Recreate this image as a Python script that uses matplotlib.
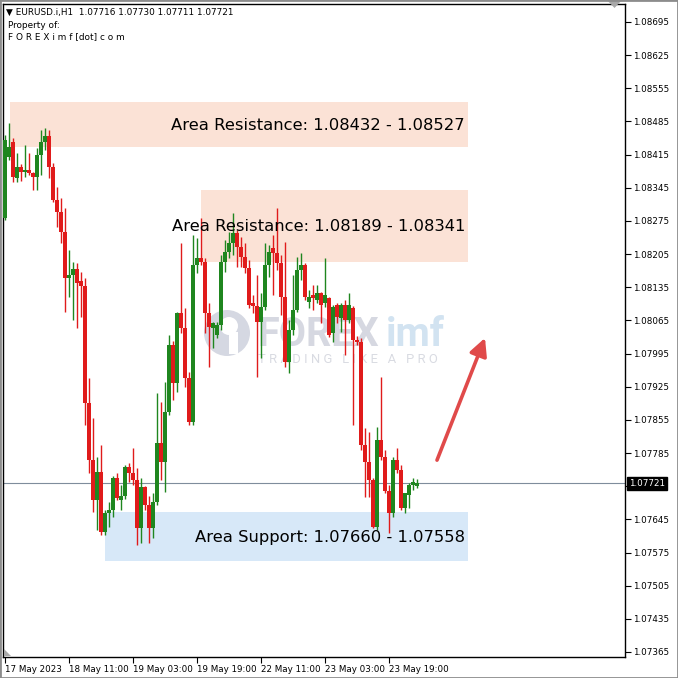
import matplotlib
matplotlib.use("Agg")
import matplotlib.pyplot as plt
from matplotlib.patches import Rectangle, Circle, FancyArrowPatch, Polygon

# ---------------- data ----------------
symbol = "EURUSD.i,H1"

open_ = [1.08281, 1.08410, 1.08442, 1.08366, 1.08389, 1.08378, 1.08383, 1.08376, 1.08368, 1.08414,
         1.08442, 1.08454, 1.08389, 1.08319, 1.08294, 1.08252, 1.08155, 1.08161, 1.08174, 1.08148,
         1.08138, 1.07891, 1.07770, 1.07686, 1.07745, 1.07618, 1.07658, 1.07665, 1.07732, 1.07686,
         1.07694, 1.07756, 1.07743, 1.07728, 1.07627, 1.07713, 1.07675, 1.07627, 1.07682, 1.07806,
         1.07766, 1.07872, 1.08013, 1.07933, 1.08081, 1.08049, 1.07943, 1.07851, 1.08182, 1.08197,
         1.08188, 1.08081, 1.08049, 1.08034, 1.08055, 1.08188, 1.08210, 1.08228, 1.08250, 1.08220,
         1.08199, 1.08176, 1.08102, 1.08096, 1.08062, 1.08093, 1.08182, 1.08218, 1.08207, 1.08186,
         1.08114, 1.07977, 1.08045, 1.08087, 1.08172, 1.08182, 1.08104, 1.08119, 1.08108, 1.08123,
         1.08102, 1.08112, 1.08038, 1.08098, 1.08070, 1.08098, 1.08066, 1.08091, 1.08024, 1.08019,
         1.07802, 1.07766, 1.07728, 1.07629, 1.07813, 1.07777, 1.07705, 1.07658, 1.07770, 1.07749,
         1.07669, 1.07697, 1.07718, 1.07716]

high = [1.08456, 1.08482, 1.08450, 1.08419, 1.08395, 1.08435, 1.08419, 1.08378, 1.08429, 1.08467,
        1.08471, 1.08467, 1.08397, 1.08347, 1.08324, 1.08302, 1.08214, 1.08188, 1.08186, 1.08167,
        1.08155, 1.07943, 1.07859, 1.07777, 1.07802, 1.07665, 1.07682, 1.07737, 1.07743, 1.07718,
        1.07760, 1.07764, 1.07796, 1.07754, 1.07732, 1.07716, 1.07694, 1.07701, 1.07912, 1.07893,
        1.07935, 1.08034, 1.08022, 1.08083, 1.08228, 1.08091, 1.07956, 1.08245, 1.08239, 1.08281,
        1.08197, 1.08102, 1.08062, 1.08062, 1.08203, 1.08235, 1.08252, 1.08292, 1.08256, 1.08241,
        1.08228, 1.08193, 1.08119, 1.08161, 1.08123, 1.08228, 1.08224, 1.08245, 1.08302, 1.08203,
        1.08231, 1.08066, 1.08161, 1.08199, 1.08207, 1.08186, 1.08129, 1.08140, 1.08140, 1.08125,
        1.08197, 1.08114, 1.08098, 1.08102, 1.08102, 1.08108, 1.08123, 1.08096, 1.08032, 1.08028,
        1.07838, 1.07830, 1.07732, 1.07840, 1.07946, 1.07792, 1.07718, 1.07777, 1.07796, 1.07760,
        1.07701, 1.07722, 1.07732, 1.07730]

low = [1.08277, 1.08404, 1.08357, 1.08357, 1.08359, 1.08368, 1.08372, 1.08340, 1.08340, 1.08372,
       1.08425, 1.08366, 1.08315, 1.08262, 1.08228, 1.08083, 1.08114, 1.08066, 1.08049, 1.08072,
       1.07844, 1.07743, 1.07661, 1.07623, 1.07612, 1.07612, 1.07629, 1.07650, 1.07686, 1.07665,
       1.07688, 1.07724, 1.07718, 1.07591, 1.07595, 1.07665, 1.07595, 1.07606, 1.07675, 1.07728,
       1.07703, 1.07865, 1.07897, 1.07914, 1.08038, 1.07924, 1.07844, 1.07844, 1.08165, 1.08182,
       1.08038, 1.07967, 1.08007, 1.08028, 1.08045, 1.08167, 1.08197, 1.08203, 1.08178, 1.08178,
       1.08165, 1.08091, 1.08081, 1.07946, 1.07986, 1.08087, 1.08157, 1.08119, 1.08172, 1.08077,
       1.07967, 1.07954, 1.08034, 1.08083, 1.08150, 1.08108, 1.08091, 1.08087, 1.08102, 1.08060,
       1.08093, 1.08030, 1.08019, 1.08060, 1.08041, 1.07992, 1.08060, 1.07844, 1.08013, 1.07792,
       1.07692, 1.07692, 1.07627, 1.07623, 1.07770, 1.07701, 1.07616, 1.07650, 1.07743, 1.07665,
       1.07658, 1.07669, 1.07707, 1.07711]

close = [1.08446, 1.08431, 1.08368, 1.08389, 1.08378, 1.08383, 1.08376, 1.08368, 1.08414, 1.08442,
         1.08454, 1.08389, 1.08319, 1.08294, 1.08252, 1.08155, 1.08161, 1.08174, 1.08144, 1.08138,
         1.07891, 1.07770, 1.07686, 1.07745, 1.07618, 1.07658, 1.07665, 1.07732, 1.07690, 1.07694,
         1.07756, 1.07743, 1.07728, 1.07627, 1.07713, 1.07675, 1.07627, 1.07682, 1.07806, 1.07766,
         1.07872, 1.08013, 1.07933, 1.08081, 1.08049, 1.07943, 1.07851, 1.08182, 1.08197, 1.08188,
         1.08081, 1.08051, 1.08060, 1.08055, 1.08188, 1.08210, 1.08228, 1.08250, 1.08220, 1.08199,
         1.08176, 1.08098, 1.08096, 1.08062, 1.08093, 1.08182, 1.08210, 1.08207, 1.08186, 1.08114,
         1.07977, 1.08045, 1.08087, 1.08172, 1.08182, 1.08114, 1.08114, 1.08112, 1.08123, 1.08098,
         1.08119, 1.08034, 1.08093, 1.08072, 1.08098, 1.08066, 1.08098, 1.08024, 1.08019, 1.07802,
         1.07766, 1.07728, 1.07629, 1.07813, 1.07777, 1.07705, 1.07658, 1.07770, 1.07749, 1.07669,
         1.07701, 1.07718, 1.07724, 1.07721]

time_labels = ["17 May 2023", "18 May 11:00", "19 May 03:00", "19 May 19:00",
               "22 May 11:00", "23 May 03:00", "23 May 19:00"]
time_label_bars = [0, 16, 32, 48, 64, 80, 96]

price_ticks = [1.08695, 1.08625, 1.08555, 1.08485, 1.08415, 1.08345, 1.08275, 1.08205,
               1.08135, 1.08065, 1.07995, 1.07925, 1.07855, 1.07785, 1.07715, 1.07645,
               1.07575, 1.07505, 1.07435, 1.07365]
hidden_tick = 1.07715  # covered by the current-price box in the reference

zone_kind = ["Area Resistance", "Area Resistance", "Area Support"]
zone_low = [1.08432, 1.08189, 1.07558]
zone_high = [1.08527, 1.08341, 1.07660]
zone_first = [1.08432, 1.08189, 1.07660]
zone_second = [1.08527, 1.08341, 1.07558]
zone_start_bar = [1.25, 49.0, 25.0]
zone_end_bar = 115.75
zone_color = ["#FBE2D6", "#FBE2D6", "#D7E8F8"]

arrow_from = (108, 1.07770)
arrow_to = (120, 1.08028)

# ---------------- figure ----------------
W = H = 678.0
fig = plt.figure(figsize=(6.78, 6.78), dpi=100)
fig.patch.set_facecolor("white")
ax = fig.add_axes([3 / W, 21 / H, 622 / W, 653 / H])
ax.set_xlim(-0.5, 155)
ax.set_ylim(1.073544, 1.08733)
ax.set_facecolor("white")

GREEN = "#1F861F"
RED = "#E01B1B"

# zones
for lo, hi, x0, col in zip(zone_low, zone_high, zone_start_bar, zone_color):
    ax.add_patch(Rectangle((x0, lo), zone_end_bar - x0, hi - lo, facecolor=col,
                           edgecolor="none", zorder=1))

# watermark (figure pixel coordinates)
def fx(px):
    return px / W

def fy(py):
    return 1 - py / H

ax.add_artist(Circle((fx(227), fy(333)), 23 / W, transform=fig.transFigure,
                     facecolor="#D5D8E2", edgecolor="none", zorder=1.5))
ax.add_artist(Circle((fx(229), fy(326)), 9 / W, transform=fig.transFigure,
                     facecolor="white", edgecolor="none", zorder=1.6))
ax.add_artist(Rectangle((fx(229), fy(354)), 9 / W, 22 / H, transform=fig.transFigure,
                        facecolor="white", edgecolor="none", zorder=1.6))
ax.text(fx(257), fy(346), "FOREX", transform=fig.transFigure, fontsize=28.5,
        family="Roboto", fontweight="bold", color="#D6D8E1", ha="left",
        va="baseline", zorder=1.7)
ax.text(fx(386), fy(346), "imf", transform=fig.transFigure, fontsize=28.5,
        family="Roboto", fontweight="bold", color="#D2E3F1", ha="left",
        va="baseline", zorder=1.7)
ax.text(fx(258), fy(363), "T R A D I N G   L I K E   A   P R O", transform=fig.transFigure,
        fontsize=9.4, family="Roboto", color="#D9DBE2", ha="left",
        va="baseline", zorder=1.7)

# current price line
last_close = close[-1]
ax.axhline(last_close, color="#7F8D9C", lw=0.8, zorder=2)

# candles
n = len(close)
xs = list(range(n))
cols = [GREEN if c >= o else RED for o, c in zip(open_, close)]
ax.vlines(xs, low, high, colors=cols, lw=1.0, zorder=3)
bottoms = [min(o, c) for o, c in zip(open_, close)]
heights = [max(abs(c - o), 0.00002) for o, c in zip(open_, close)]
ax.bar(xs, heights, bottom=bottoms, width=0.8, color=cols, edgecolor="none", zorder=4)

# zone labels
for kind, a, b, lo, hi in zip(zone_kind, zone_first, zone_second, zone_low, zone_high):
    ax.text(115.0, (lo + hi) / 2 - 0.00002, f"{kind}: {a:.5f} - {b:.5f}", ha="right",
            va="center", fontsize=11.8, color="black", zorder=6)

# arrow
ax.add_patch(FancyArrowPatch(arrow_from, arrow_to,
                             arrowstyle="-|>,head_length=0.75,head_width=0.38",
                             mutation_scale=14, color="#E04A4A", lw=2.6,
                             shrinkA=0, shrinkB=0, zorder=5))

# axes styling
for s in ax.spines.values():
    s.set_color("black")
    s.set_linewidth(1.0)
ax.yaxis.tick_right()
ax.set_yticks(price_ticks)
ax.set_yticklabels(["" if p == hidden_tick else f"{p:.5f}" for p in price_ticks])
ax.tick_params(axis="y", direction="out", length=4, width=0.8, pad=2,
               labelsize=6.3, colors="black")
ax.set_xticks(time_label_bars)
ax.set_xticklabels(time_labels)
ax.tick_params(axis="x", direction="out", length=4, width=0.8, pad=1.5,
               labelsize=6.3, colors="black")
for lbl in ax.get_xticklabels():
    lbl.set_ha("left")

# current price box
ax.text(1.006, last_close, f"{last_close:.5f}", transform=ax.get_yaxis_transform(),
        ha="left", va="center", fontsize=6.3, color="white", zorder=10,
        bbox=dict(boxstyle="square,pad=0.25", facecolor="black", edgecolor="black"),
        clip_on=False)

# header
last_o, last_h, last_l, last_c = open_[-1], high[-1], low[-1], close[-1]
fig.text(fx(6), fy(12), f"\u25BC {symbol}  {last_o:.5f} {last_h:.5f} {last_l:.5f} {last_c:.5f}",
         fontsize=6.4, ha="left", va="center", color="black")
fig.text(fx(8), fy(25), "Property of:", fontsize=6.4, ha="left", va="center", color="black")
fig.text(fx(8), fy(37), "F O R E X i m f [dot] c o m", fontsize=6.4, ha="left",
         va="center", color="black")

# small chart markers
fig.patches.append(Polygon([(fx(607), fy(0)), (fx(622), fy(0)), (fx(614.5), fy(8))],
                           closed=True, transform=fig.transFigure, facecolor="#A8A8A8",
                           edgecolor="none", zorder=5))
fig.patches.append(Polygon([(fx(4), fy(649)), (fx(4), fy(656)), (fx(11), fy(656))],
                           closed=True, transform=fig.transFigure, facecolor="#A8A8A8",
                           edgecolor="none", zorder=5))
# window frame
fig.patches.append(Rectangle((0, 0), 1, 1, transform=fig.transFigure, fill=False,
                             edgecolor="#8C8C8C", lw=2.0, zorder=6))

fig.savefig("out.png", dpi=100, facecolor="white")
